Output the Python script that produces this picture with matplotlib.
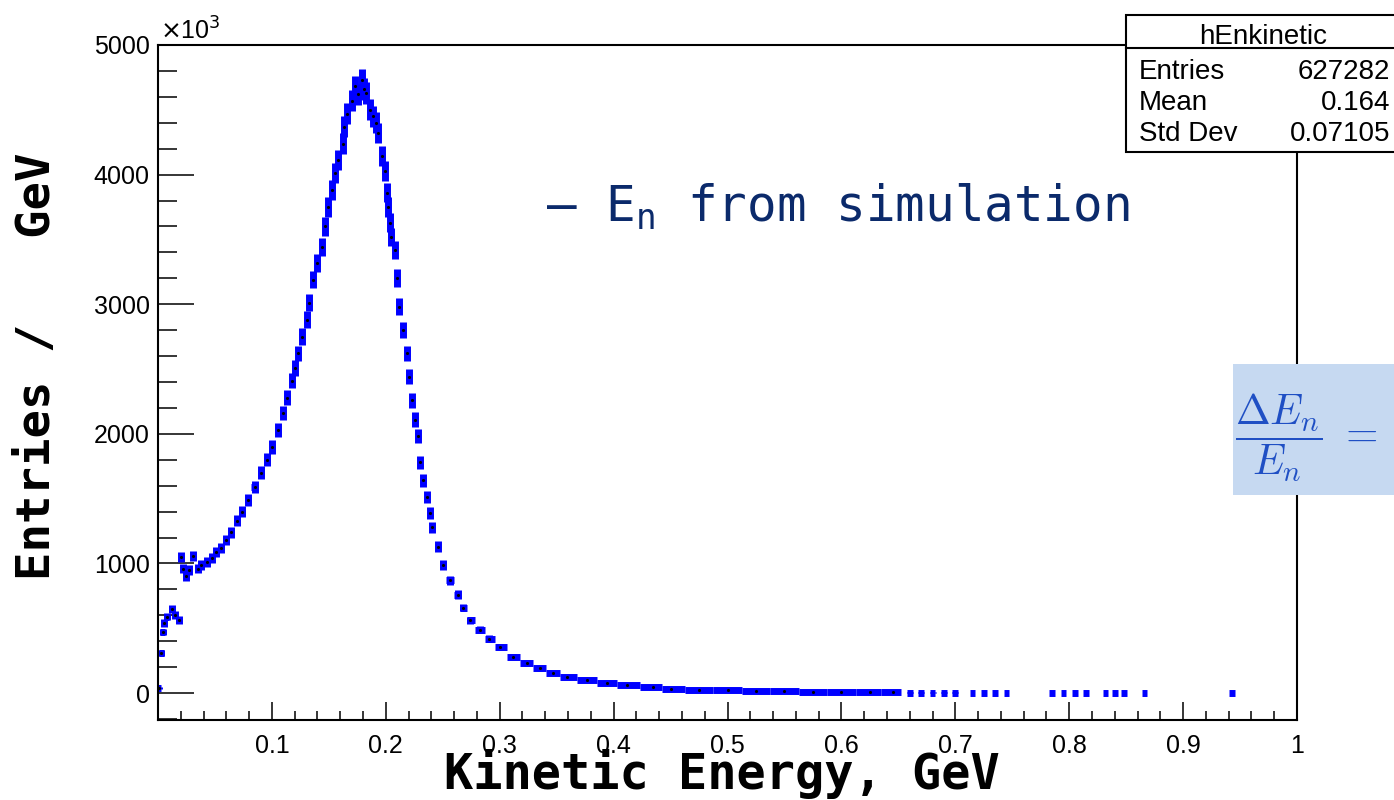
import numpy as np
import matplotlib
matplotlib.use('Agg')
import matplotlib.pyplot as plt
from matplotlib.patches import Rectangle

# kinetic energy of the neutron (GeV) and entries (x10^3)
energy = [0.001, 0.003, 0.004, 0.005, 0.008, 0.012, 0.015, 0.018, 0.020, 0.022,
          0.025, 0.027, 0.031, 0.035, 0.038, 0.043, 0.047, 0.051, 0.055, 0.060,
          0.064, 0.069, 0.074, 0.079, 0.085, 0.090, 0.096, 0.100, 0.105, 0.110,
          0.113, 0.118, 0.120, 0.123, 0.126, 0.131, 0.133, 0.136, 0.140, 0.144,
          0.147, 0.149, 0.153, 0.155, 0.158, 0.162, 0.163, 0.166, 0.170, 0.173,
          0.176, 0.179, 0.181, 0.183, 0.186, 0.189, 0.191, 0.193, 0.197, 0.199,
          0.201, 0.202, 0.204, 0.205, 0.208, 0.210, 0.212, 0.215, 0.219, 0.220,
          0.223, 0.226, 0.228, 0.230, 0.233, 0.236, 0.239, 0.241, 0.246, 0.250,
          0.256, 0.263, 0.268, 0.274, 0.283, 0.291, 0.300, 0.312, 0.324, 0.335,
          0.347, 0.359, 0.377, 0.394, 0.412, 0.435, 0.450, 0.475, 0.500, 0.525,
          0.550, 0.575, 0.600, 0.625, 0.645,
          0.660, 0.670, 0.680, 0.690, 0.700, 0.715, 0.725, 0.735, 0.745, 0.785,
          0.795, 0.805, 0.815, 0.832, 0.840, 0.848, 0.866, 0.943]
entries = [40, 310, 470, 540, 590, 650, 600, 565, 1050, 960,
           900, 950, 1060, 960, 990, 1010, 1040, 1090, 1120, 1180,
           1240, 1330, 1400, 1490, 1590, 1700, 1800, 1900, 2030, 2160,
           2280, 2410, 2510, 2620, 2750, 2880, 3010, 3190, 3320, 3440,
           3600, 3750, 3880, 4010, 4110, 4240, 4370, 4470, 4570, 4680,
           4620, 4730, 4660, 4630, 4500, 4450, 4400, 4320, 4140, 4030,
           3860, 3750, 3630, 3520, 3420, 3200, 2980, 2800, 2620, 2440,
           2260, 2110, 1980, 1780, 1640, 1510, 1390, 1280, 1130, 990,
           870, 760, 660, 560, 490, 420, 355, 280, 230, 190,
           155, 125, 100, 78, 62, 46, 35, 27, 20, 16,
           13, 10, 8, 6, 5,
           4, 4, 3, 3, 3, 2, 2, 2, 2, 1,
           1, 1, 1, 1, 1, 1, 1, 1]

stat_names = ['Entries', 'Mean', 'Std Dev']
stat_values = ['627282', '0.164', '0.07105']

plt.rcParams['font.family'] = ['Liberation Sans', 'DejaVu Sans']
plt.rcParams['mathtext.rm'] = 'DejaVu Sans Mono'
plt.rcParams['mathtext.it'] = 'DejaVu Sans Mono'

W, H = 1394, 800
def fx(px):
    return px / W
def fy(py):
    return 1 - py / H

fig = plt.figure(figsize=(13.94, 8), dpi=100)
ax = fig.add_axes([fx(158), fy(720), fx(1297) - fx(158), fy(45) - fy(720)])

x = np.array(energy)
y = np.array(entries, dtype=float)

# horizontal bar = half way to the neighbours, short dashes in the sparse tail
gaps = np.diff(x)
left = np.r_[gaps[0], gaps] / 2
right = np.r_[gaps, gaps[-1]] / 2
cap = np.where(x > 0.65, 0.0025, 0.0125)
left = np.minimum(np.maximum(left, 0.002), cap)
right = np.minimum(np.maximum(right, 0.002), cap)
yerr = np.sqrt(y) * 1.2

ax.errorbar(x, y, xerr=[left, right], yerr=yerr, fmt='none', ecolor='#0000ff',
            elinewidth=5, capsize=0, zorder=2)
ax.plot(x[x < 0.65], y[x < 0.65], 'k.', ms=2.5, zorder=3)

ax.set_xlim(0, 1)
ax.set_ylim(-208, 5000)
ax.set_xticks(np.arange(0.1, 1.01, 0.1))
ax.set_xticklabels(['0.1', '0.2', '0.3', '0.4', '0.5', '0.6', '0.7', '0.8', '0.9', '1'])
ax.set_xticks(np.arange(0, 1.001, 0.02), minor=True)
ax.set_yticks(np.arange(0, 5001, 1000))
ax.set_yticks(np.arange(-200, 5001, 200), minor=True)

ax.tick_params(axis='both', which='both', direction='in', width=1.1, labelsize=18)
ax.tick_params(axis='y', which='major', length=26, pad=6)
ax.tick_params(axis='y', which='minor', length=14)
ax.tick_params(axis='x', which='major', length=13, pad=10)
ax.tick_params(axis='x', which='minor', length=6.5)
ax.tick_params(top=False, right=False, which='both')
for s in ax.spines.values():
    s.set_linewidth(1.5)

fig.text(fx(160), fy(40), r'$\times$10$^{3}$', fontsize=18, ha='left', va='baseline')

# axis titles
fig.text(fx(722), fy(789), 'Kinetic Energy, GeV', family='DejaVu Sans Mono',
         weight='bold', fontsize=35, ha='center', va='baseline')
fig.text(fx(38), fy(366), 'Entries /   GeV', family='DejaVu Sans Mono',
         weight='bold', fontsize=34, ha='center', va='center', rotation=90)

# legend-like label
fig.text(fx(546), fy(222), r'– $\mathrm{E}_{\mathrm{n}}$ from simulation',
         family='DejaVu Sans Mono', fontsize=35.5, color='#0b2a6b',
         ha='left', va='baseline', math_fontfamily='custom')

# stat box
box = Rectangle((fx(1126), fy(152)), fx(1400) - fx(1126), fy(15) - fy(152),
                transform=fig.transFigure, facecolor='white', edgecolor='black',
                linewidth=1.5, zorder=10, clip_on=False)
fig.patches.append(box)
fig.lines.append(plt.Line2D([fx(1126), fx(1400)], [fy(48), fy(48)],
                            transform=fig.transFigure, color='black', lw=1.5, zorder=11))
fig.text(fx(1263), fy(44), 'hEnkinetic', fontsize=20, ha='center', va='baseline', zorder=12)
for i, (nm, val) in enumerate(zip(stat_names, stat_values)):
    yy = fy(79 + 31 * i)
    fig.text(fx(1139), yy, nm, fontsize=20, ha='left', va='baseline', zorder=12)
    fig.text(fx(1390), yy, val, fontsize=20, ha='right', va='baseline', zorder=12)

# formula box on the right
fbox = Rectangle((fx(1233), fy(495)), fx(1400) - fx(1233), fy(364) - fy(495),
                 transform=fig.transFigure, facecolor='#c6d9f1', edgecolor='none',
                 zorder=10, clip_on=False)
fig.patches.append(fbox)
fig.text(fx(1235), fy(438), r'$\dfrac{\Delta E_n}{E_n}\ =$', fontsize=30,
         color='#1f4fc4', ha='left', va='center', math_fontfamily='cm', zorder=12)

fig.savefig('out.png', dpi=100)
